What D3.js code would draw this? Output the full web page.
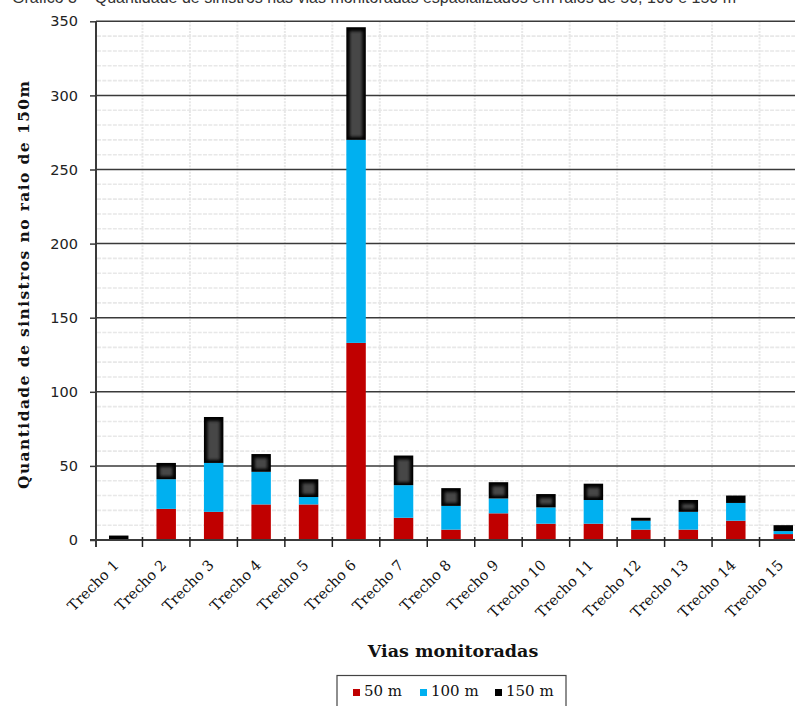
<!DOCTYPE html>
<html>
<head>
<meta charset="utf-8">
<script src="https://cdn.jsdelivr.net/npm/d3@7"></script>
<style>
  html, body { margin: 0; padding: 0; background: #fff; overflow: hidden; }
</style>
</head>
<body>
<div id="chart-container"></div>
<script>
const width = 795;
const height = 706;

// data
const categories = ["Trecho 1", "Trecho 2", "Trecho 3", "Trecho 4", "Trecho 5", "Trecho 6", "Trecho 7", "Trecho 8",
  "Trecho 9", "Trecho 10", "Trecho 11", "Trecho 12", "Trecho 13", "Trecho 14", "Trecho 15"];
const seriesNames = ["50 m", "100 m", "150 m"];
const raio50 = [0, 21, 19, 24, 24, 133, 15, 7, 18, 11, 11, 7, 7, 13, 4];
const raio100 = [0, 20, 33, 22, 5, 137, 22, 16, 10, 11, 16, 6, 12, 12, 2];
const raio150 = [3, 11, 31, 12, 12, 76, 20, 12, 11, 9, 11, 2, 8, 5, 4];
const yTicks = [0, 50, 100, 150, 200, 250, 300, 350];
const colors = ["#c00000", "#00b0f0", "#000000"];

const table = categories.map((c, i) => ({ cat: c, "50 m": raio50[i], "100 m": raio100[i], "150 m": raio150[i] }));

const x = d3.scaleBand(categories, [95, 807]);
const y = d3.scaleLinear([0, 350], [540, 21.3]);

const stack = d3.stack().keys(seriesNames);
const layers = stack(table);

const svg = d3.select("#chart-container")
    .append("svg")
    .attr("width", width)
    .attr("height", height)
    .attr("viewBox", [0, 0, width, height]);

const defs = svg.append("defs");
defs.append("filter").attr("id", "soft")
    .attr("x", "-50%").attr("y", "-50%").attr("width", "200%").attr("height", "200%")
  .append("feGaussianBlur").attr("stdDeviation", 1.4);

// title, cut off by the top edge as in the picture
svg.append("text")
    .attr("x", 12).attr("y", 3)
    .attr("font-family", "Liberation Sans, Arial, sans-serif")
    .attr("font-size", 16)
    .attr("fill", "#333")
    .text("Gráfico 3 – Quantidade de sinistros nas vias monitoradas espacializados em raios de 50, 100 e 150 m");

// minor grid, every 10
const minor = d3.range(10, 351, 10).filter(v => v % 50 !== 0);
svg.append("g")
  .selectAll("line")
  .data(minor)
  .join("line")
    .attr("x1", 97).attr("x2", width)
    .attr("y1", d => y(d)).attr("y2", d => y(d))
    .attr("stroke", "#e8e8e8")
    .attr("stroke-width", 1.6)
    .attr("stroke-dasharray", "4,1.3");

svg.append("g")
  .selectAll("line")
  .data(categories.slice(1))
  .join("line")
    .attr("x1", d => x(d)).attr("x2", d => x(d))
    .attr("y1", y(350)).attr("y2", y(0))
    .attr("stroke", "#e8e8e8")
    .attr("stroke-width", 2)
    .attr("stroke-dasharray", "2,1.2");

// major grid
svg.append("g")
  .selectAll("line")
  .data(yTicks.slice(1))
  .join("line")
    .attr("x1", 96).attr("x2", width)
    .attr("y1", d => y(d)).attr("y2", d => y(d))
    .attr("stroke", "#3a3a3a")
    .attr("stroke-width", 1.5);

// bars
const barW = x.bandwidth() * 0.41;
const bx = d => x(d.data.cat) + (x.bandwidth() - barW) / 2;

layers.forEach((layer, li) => {
  const g = svg.append("g");
  g.selectAll("rect")
    .data(layer.filter(d => d[1] > d[0]))
    .join("rect")
      .attr("x", bx)
      .attr("width", barW)
      .attr("y", d => y(d[1]))
      .attr("height", d => y(d[0]) - y(d[1]))
      .attr("fill", colors[li]);
  if (li === 2) {
    // the dark glow inside the black segments
    g.selectAll("rect.glow")
      .data(layer.filter(d => y(d[0]) - y(d[1]) > 8))
      .join("rect")
        .attr("class", "glow")
        .attr("x", d => bx(d) + 3.5)
        .attr("width", barW - 7)
        .attr("y", d => y(d[1]) + 4)
        .attr("height", d => y(d[0]) - y(d[1]) - 7)
        .attr("fill", "#474747")
        .attr("filter", "url(#soft)");
  }
});

// axes
const yAxis = svg.append("g")
    .attr("transform", "translate(96,0)")
    .call(d3.axisLeft(y).tickValues(yTicks).tickSize(6).tickPadding(12));
yAxis.select(".domain").attr("stroke", "#3a3a3a").attr("stroke-width", 2).attr("d", `M0,${y(350)}V${y(0) + 7}`);
yAxis.selectAll(".tick line").attr("stroke", "#3a3a3a").attr("stroke-width", 1.5);
yAxis.selectAll("text")
    .attr("font-family", "DejaVu Sans, Verdana, sans-serif")
    .attr("font-size", 14.5)
    .attr("fill", "#222");

const xAxis = svg.append("g")
    .attr("transform", `translate(0,${y(0)})`)
    .call(d3.axisBottom(x).tickSize(0).tickFormat(""));
xAxis.select(".domain").attr("stroke", "#3a3a3a").attr("stroke-width", 2).attr("d", `M90,0H${width}`);
xAxis.selectAll(".tick").remove();

svg.append("g")
  .selectAll("line")
  .data(categories.slice(1))
  .join("line")
    .attr("x1", d => x(d)).attr("x2", d => x(d))
    .attr("y1", y(0) - 3).attr("y2", y(0) + 7)
    .attr("stroke", "#222")
    .attr("stroke-width", 1.5);

svg.append("g")
  .selectAll("text")
  .data(categories)
  .join("text")
    .attr("transform", d => `translate(${x(d) + x.bandwidth() / 2 + 1},566) rotate(-45)`)
    .attr("text-anchor", "end")
    .attr("font-family", "DejaVu Serif, serif")
    .attr("font-size", 14.5)
    .attr("fill", "#111")
    .text(d => d);

// axis titles
svg.append("text")
    .attr("transform", "translate(29,285) rotate(-90)")
    .attr("text-anchor", "middle")
    .attr("font-family", "DejaVu Serif, serif")
    .attr("font-weight", "bold")
    .attr("font-size", 15.5)
    .attr("textLength", 408)
    .attr("lengthAdjust", "spacing")
    .attr("fill", "#111")
    .text("Quantidade de sinistros no raio de 150m");

svg.append("text")
    .attr("x", 453).attr("y", 657)
    .attr("text-anchor", "middle")
    .attr("font-family", "DejaVu Serif, serif")
    .attr("font-weight", "bold")
    .attr("font-size", 17.5)
    .attr("fill", "#111")
    .text("Vias monitoradas");

// legend
const legend = svg.append("g");
legend.append("rect")
    .attr("x", 337).attr("y", 675.5)
    .attr("width", 229).attr("height", 40)
    .attr("fill", "#fff")
    .attr("stroke", "#444")
    .attr("stroke-width", 1.2);
const legX = [353, 420, 495];
seriesNames.forEach((s, i) => {
  legend.append("rect")
      .attr("x", legX[i]).attr("y", 689)
      .attr("width", 7).attr("height", 7)
      .attr("fill", colors[i]);
  legend.append("text")
      .attr("x", legX[i] + 11).attr("y", 696)
      .attr("font-family", "DejaVu Serif, serif")
      .attr("font-size", 15)
      .attr("fill", "#111")
      .text(s);
});
</script>
</body>
</html>
